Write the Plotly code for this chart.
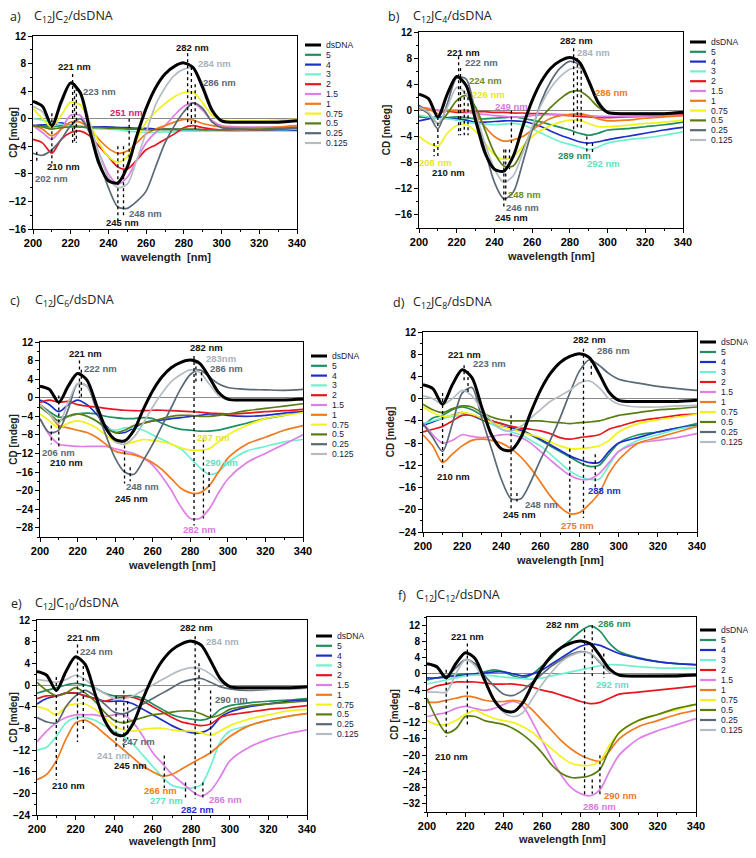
import plotly.graph_objects as go

# ---------------- data ----------------
WL = [200, 205, 210, 215, 220, 225, 230, 235, 240, 245, 250, 255, 260, 265, 270,
      275, 280, 285, 290, 295, 300, 310, 320, 330, 340]

SERIES = ["dsDNA", "5", "4", "3", "2", "1.5", "1", "0.75", "0.5", "0.25", "0.125"]
COLORS = ["#000000", "#1f8f5f", "#1c2fc8", "#6ff0d0", "#e8161e", "#e07ee8",
          "#f07a1c", "#f2f21a", "#5a7d12", "#5b6976", "#b4bcc4"]

DSDNA = [2.5, 1.8, -1.0, 2.5, 5.2, 3.8, -1.5, -6.5, -9.0, -9.3, -7.0, -2.5, 1.5, 4.5, 6.5,
         7.6, 8.1, 7.4, 4.5, 1.2, -0.3, -0.5, -0.5, -0.5, -0.3]

# panel a  C12JC2
a_5 = [-1.0, -1.1, -1.2, -1.0, -1.0, -1.1, -1.2, -1.2, -1.2, -1.3, -1.4, -1.4, -1.5, -1.5, -1.6, -1.6, -1.7, -1.7, -1.8, -1.8, -1.8, -1.7, -1.6, -1.5, -1.4]
a_4 = [-1.0, -0.9, -0.9, -0.6, -1.0, -1.2, -1.2, -1.2, -1.2, -1.3, -1.3, -1.4, -1.4, -1.5, -1.5, -1.5, -1.6, -1.6, -1.6, -1.7, -1.7, -1.7, -1.7, -1.7, -1.7]
a_3 = [0.0, -0.2, -0.5, -0.8, -1.0, -1.2, -1.3, -1.5, -1.5, -1.6, -1.8, -1.9, -2.0, -2.0, -1.9, -1.9, -1.8, -1.8, -1.8, -1.8, -1.8, -1.7, -1.6, -1.6, -1.5]
a_2 = [-3.0, -3.5, -5.0, -3.0, -2.0, -1.8, -2.5, -4.0, -5.5, -7.0, -7.3, -6.0, -4.5, -3.8, -3.0, -2.2, -1.3, -1.0, -1.3, -1.5, -1.6, -1.6, -1.6, -1.5, -1.3]
a_15 = [-1.0, -2.0, -3.0, -1.5, 0.5, 0.5, -2.0, -5.0, -8.0, -9.5, -8.5, -6.0, -3.5, -2.0, -1.0, 0.5, 1.8, 2.3, 1.2, -0.3, -1.0, -1.2, -1.2, -1.2, -1.0]
a_1 = [-1.0, -1.5, -2.5, -1.5, -0.5, -0.5, -1.5, -3.0, -4.3, -5.0, -4.7, -3.5, -2.2, -1.5, -1.0, -0.5, -0.1, -0.2, -0.7, -1.0, -1.2, -1.3, -1.3, -1.2, -1.0]
a_075 = [1.5, 0.0, -1.2, 0.5, 2.4, 2.0, -0.5, -3.5, -5.5, -6.3, -5.5, -3.0, -0.5, 1.0, 2.2, 3.2, 3.8, 3.8, 2.3, 0.5, -0.2, -0.3, -0.3, -0.2, -0.1]
a_05 = [-1.0, -1.2, -1.5, -1.3, -1.2, -1.2, -1.3, -1.3, -1.4, -1.4, -1.5, -1.5, -1.6, -1.6, -1.5, -1.5, -1.5, -1.5, -1.6, -1.6, -1.6, -1.5, -1.5, -1.4, -1.3]
a_025 = [-5.0, -5.3, -4.5, -3.0, -1.0, 0.0, -2.0, -6.0, -10.0, -12.8, -13.0, -12.0, -10.5, -7.0, -3.5, -1.0, 1.0, 2.3, 1.5, -0.5, -1.3, -1.5, -1.6, -1.5, -1.4]
a_0125 = [1.8, 1.0, -1.0, 2.0, 5.0, 4.0, -0.5, -5.0, -8.5, -10.0, -9.5, -6.0, -2.0, 2.0, 4.5, 6.3, 7.2, 7.3, 5.0, 1.5, -0.3, -0.5, -0.5, -0.4, -0.3]

# panel b  C12JC4
b_5 = [-1.0, -1.1, -1.2, -1.1, -1.0, -1.1, -1.3, -1.3, -1.2, -1.1, -1.0, -1.2, -1.5, -1.8, -2.2, -2.6, -3.0, -3.5, -3.8, -3.5, -3.0, -2.8, -2.5, -2.2, -1.8]
b_4 = [-1.6, -1.3, -1.0, -1.2, -1.3, -1.5, -1.8, -1.8, -1.7, -1.6, -1.6, -1.7, -2.0, -2.5, -3.2, -3.8, -4.3, -4.8, -5.0, -4.8, -4.5, -4.0, -3.5, -3.0, -2.6]
b_3 = [-0.7, -1.0, -1.2, -1.3, -1.5, -1.8, -2.0, -2.1, -2.2, -2.1, -2.0, -2.2, -2.8, -3.5, -4.2, -4.8, -5.2, -5.6, -6.0, -5.6, -5.0, -4.5, -4.2, -3.8, -3.3]
b_2 = [0.3, 0.2, 0.0, -0.1, -0.3, -0.3, -0.2, -0.2, -0.3, -0.3, -0.4, -0.4, -0.5, -0.5, -0.6, -0.7, -0.8, -0.9, -1.0, -1.1, -1.1, -1.0, -0.9, -0.8, -0.7]
b_15 = [0.5, 0.3, 0.0, 0.0, 0.0, -0.2, -0.5, -0.6, -0.8, -0.9, -1.0, -1.0, -0.8, -0.7, -0.6, -0.6, -0.7, -0.7, -0.8, -0.9, -0.9, -0.9, -0.9, -0.8, -0.8]
b_1 = [0.5, 0.2, -0.5, 0.0, 0.0, 0.0, -0.5, -2.5, -4.0, -4.7, -4.5, -4.0, -3.0, -2.0, -1.2, -0.8, -0.6, -0.5, -0.8, -1.3, -1.6, -1.5, -1.2, -1.0, -0.8]
b_075 = [-4.0, -5.0, -5.5, -3.5, -2.3, -2.2, -3.2, -5.0, -6.8, -7.5, -7.0, -5.5, -4.0, -3.0, -2.3, -1.8, -1.5, -1.5, -2.0, -2.5, -2.5, -2.3, -2.0, -1.8, -1.5]
b_05 = [0.5, -0.5, -2.0, -0.5, 1.5, 2.3, 0.5, -3.0, -6.5, -8.5, -8.5, -6.0, -3.0, -1.0, 0.5, 1.8, 2.8, 3.0, 2.0, 0.5, -0.3, -0.5, -0.4, -0.4, -0.3]
b_025 = [0.8, -0.5, -2.8, 1.0, 5.0, 4.8, -0.5, -6.0, -11.0, -13.5, -12.5, -8.0, -3.0, 1.5, 4.5, 6.5, 7.5, 7.0, 4.5, 1.5, -0.3, -0.5, -0.5, -0.5, -0.4]
b_0125 = [0.5, -0.3, -2.0, 0.5, 3.5, 2.5, -0.5, -5.0, -9.0, -11.0, -10.0, -6.5, -2.5, 1.0, 3.5, 5.2, 6.3, 6.5, 4.5, 1.5, -0.2, -0.4, -0.4, -0.4, -0.3]

# panel c  C12JC6
c_5 = [-1.5, -3.0, -4.2, -4.0, -3.5, -3.3, -3.5, -4.0, -4.3, -4.5, -4.5, -4.3, -4.5, -5.5, -6.3, -6.8, -7.0, -7.2, -7.2, -7.0, -6.5, -5.5, -4.5, -3.8, -3.0]
c_4 = [-0.5, -1.5, -3.0, -1.5, -0.5, -1.5, -3.5, -6.0, -7.5, -7.5, -6.5, -5.5, -5.0, -4.8, -4.5, -4.3, -4.0, -3.8, -3.5, -3.5, -3.8, -4.0, -3.8, -3.3, -3.0]
c_3 = [-2.0, -3.5, -5.0, -4.0, -3.5, -4.0, -5.0, -6.5, -7.0, -6.5, -6.5, -7.0, -8.0, -9.0, -10.0, -11.0, -13.0, -15.0, -16.5, -16.0, -14.0, -11.5, -10.5, -9.5, -9.0]
c_2 = [-1.0, -0.5, -1.0, -0.8, -1.5, -1.8, -2.0, -2.3, -2.5, -2.7, -2.8, -2.8, -2.7, -2.7, -2.8, -2.9, -3.0, -3.1, -3.3, -3.4, -3.5, -3.3, -3.0, -2.8, -2.5]
c_15 = [-4.5, -8.0, -10.0, -10.3, -10.5, -10.5, -10.5, -10.5, -11.0, -11.5, -12.0, -13.0, -14.5, -17.0, -20.0, -23.5, -26.0, -26.0, -24.0, -20.5, -17.5, -14.0, -12.0, -10.0, -8.0]
c_1 = [-1.5, -3.5, -6.0, -6.5, -7.0, -7.5, -8.5, -10.0, -11.5, -12.0, -12.3, -13.0, -14.0, -15.5, -17.5, -19.5, -20.5, -20.5, -19.0, -16.0, -13.0, -10.0, -8.5, -7.0, -6.0]
c_075 = [-3.5, -5.0, -6.5, -5.5, -5.0, -5.5, -6.5, -8.0, -9.5, -10.0, -9.5, -9.0, -9.2, -9.5, -10.0, -10.8, -11.3, -11.3, -11.0, -9.5, -8.0, -6.0, -4.5, -3.8, -3.2]
c_05 = [-2.0, -3.5, -5.0, -4.0, -3.5, -4.0, -5.0, -6.5, -7.5, -7.0, -6.0, -5.5, -5.0, -4.5, -4.0, -3.8, -3.8, -4.0, -4.0, -3.8, -3.5, -2.8, -2.3, -1.8, -1.3]
c_025 = [-4.5, -7.5, -7.0, -2.5, 3.0, 2.5, -2.5, -8.0, -13.0, -16.0, -16.5, -13.5, -10.0, -6.0, -2.0, 2.0, 5.0, 6.0, 4.5, 3.0, 2.2, 1.8, 1.7, 1.6, 1.8]
c_0125 = [-1.5, -3.5, -5.5, -1.0, 3.0, 2.5, -1.5, -6.5, -9.5, -10.0, -8.5, -5.5, -2.0, 1.0, 3.5, 5.0, 6.0, 5.5, 3.0, 0.5, -0.5, -0.5, -0.5, -0.5, -0.5]

# panel d  C12JC8
d_5 = [-5.0, -3.5, -3.0, -2.0, -1.5, -2.0, -3.0, -4.0, -4.5, -5.0, -5.5, -6.5, -7.5, -8.5, -9.5, -10.5, -11.5, -12.2, -12.0, -10.0, -8.0, -6.5, -6.0, -5.3, -4.5]
d_4 = [-4.8, -4.2, -3.5, -3.0, -2.5, -3.0, -3.8, -4.5, -5.0, -5.3, -5.8, -6.5, -7.3, -8.3, -9.3, -10.3, -11.0, -11.5, -11.5, -9.5, -8.0, -7.0, -6.0, -5.3, -4.8]
d_3 = [-4.5, -4.0, -3.5, -3.2, -3.0, -3.0, -3.5, -4.5, -5.5, -6.0, -6.5, -7.5, -8.5, -10.0, -11.5, -13.0, -14.0, -14.5, -14.5, -12.0, -9.5, -7.5, -6.5, -5.5, -5.0]
d_2 = [-6.0, -5.5, -5.0, -4.0, -3.0, -3.0, -3.5, -4.0, -4.5, -5.0, -5.3, -5.5, -5.8, -6.3, -7.0, -7.3, -7.0, -6.8, -6.5, -5.5, -5.0, -4.0, -3.5, -3.0, -2.8]
d_15 = [-4.3, -6.5, -8.0, -7.5, -6.5, -6.8, -7.0, -6.8, -6.5, -6.5, -7.0, -8.0, -9.5, -11.0, -12.5, -13.8, -14.5, -14.5, -13.5, -11.5, -9.5, -8.0, -7.5, -7.0, -6.3]
d_1 = [-6.5, -8.5, -11.5, -10.0, -8.5, -7.5, -7.3, -7.5, -8.0, -9.0, -10.5, -12.5, -15.0, -17.5, -19.5, -20.7, -20.5, -19.0, -17.0, -13.5, -11.0, -8.0, -7.0, -6.0, -5.0]
d_075 = [-1.5, -2.5, -3.2, -3.0, -2.5, -2.8, -3.5, -4.3, -5.0, -5.5, -6.0, -6.5, -7.0, -7.8, -8.5, -9.0, -9.0, -8.8, -8.5, -7.5, -6.0, -4.5, -3.8, -3.3, -2.8]
d_05 = [-1.0, -2.0, -2.5, -1.8, -1.3, -1.5, -2.5, -3.3, -3.8, -4.0, -4.0, -4.0, -4.0, -4.2, -4.3, -4.5, -4.3, -4.2, -4.0, -3.5, -3.0, -2.5, -2.0, -1.8, -1.5]
d_025 = [-4.5, -7.0, -9.5, -4.5, 1.0, 2.0, -3.5, -9.0, -14.5, -18.0, -18.0, -15.0, -11.0, -7.5, -3.5, 1.0, 5.0, 7.0, 6.0, 4.5, 3.5, 2.8, 2.2, 1.8, 1.5]
d_0125 = [0.5, 0.0, -1.0, 0.0, 1.5, 0.5, -2.0, -4.0, -5.5, -5.8, -5.0, -3.5, -2.0, -0.5, 0.5, 1.5, 2.8, 3.2, 2.0, 0.0, -1.0, -1.5, -1.5, -1.3, -1.2]

# panel e  C12JC10
e_5 = [-1.5, -1.0, -0.5, 0.0, 0.3, 0.0, -0.5, -1.5, -2.0, -2.0, -2.0, -2.5, -3.5, -4.5, -5.5, -6.0, -6.3, -6.5, -6.0, -4.5, -3.8, -3.3, -3.0, -2.8, -2.5]
e_4 = [-3.5, -2.5, -2.0, -1.5, -1.5, -2.0, -2.5, -3.0, -3.0, -3.0, -3.5, -4.5, -5.5, -6.5, -7.5, -8.3, -8.8, -8.8, -8.0, -6.0, -5.0, -4.0, -3.5, -3.0, -2.8]
e_3 = [-12.0, -11.5, -9.5, -7.0, -6.0, -6.0, -6.5, -7.5, -8.5, -9.5, -11.0, -13.0, -15.0, -17.0, -18.5, -19.0, -19.0, -18.5, -15.0, -10.5, -8.5, -7.5, -6.5, -5.8, -5.3]
e_2 = [-2.5, -2.0, -2.0, -1.5, -1.5, -2.0, -2.5, -3.0, -2.5, -2.3, -2.3, -3.0, -4.0, -5.0, -6.0, -6.8, -7.2, -7.5, -7.2, -6.0, -5.5, -5.0, -4.5, -4.2, -3.8]
e_15 = [-10.5, -8.5, -7.0, -6.0, -5.5, -5.5, -5.5, -5.8, -5.5, -5.5, -7.0, -9.5, -12.5, -14.5, -16.5, -18.0, -19.5, -20.5, -19.5, -17.0, -14.0, -11.5, -10.0, -9.0, -8.3]
e_1 = [-17.5, -16.5, -14.0, -10.0, -7.0, -6.5, -7.5, -9.0, -10.5, -12.0, -13.5, -15.0, -16.0, -16.8, -16.5, -15.5, -14.5, -13.5, -12.5, -11.0, -9.5, -7.5, -6.5, -5.8, -5.3]
e_075 = [-4.0, -4.5, -5.5, -4.0, -3.5, -3.5, -4.5, -6.0, -7.5, -8.3, -8.5, -8.2, -8.0, -8.0, -8.3, -8.5, -8.5, -8.8, -9.3, -8.5, -7.5, -6.3, -5.5, -4.8, -4.5]
e_05 = [0.5, -1.0, -2.0, -1.5, -0.5, -1.5, -3.0, -5.0, -6.5, -7.0, -6.5, -6.0, -5.5, -5.3, -5.0, -4.8, -4.8, -5.3, -6.0, -5.5, -4.5, -3.8, -3.5, -3.2, -3.0]
e_025 = [-6.0, -6.8, -7.0, -4.0, -2.0, -1.0, -2.0, -3.5, -5.0, -5.3, -4.5, -3.5, -2.5, -1.5, -0.5, 0.5, 1.0, 1.2, 0.5, -0.3, -0.7, -1.0, -0.8, -0.7, -0.6]
e_0125 = [1.0, 0.8, 0.5, 1.0, 1.8, 1.0, -0.5, -1.5, -2.5, -2.5, -2.0, -1.0, 0.0, 1.0, 2.0, 2.8, 3.2, 3.0, 2.0, 0.5, -0.3, -0.8, -0.8, -0.7, -0.6]

# panel f  C12JC12
f_5 = [-1.5, -1.0, -0.5, -0.3, 0.0, 0.0, 0.5, 1.0, 0.5, -0.5, -1.0, 0.0, 2.0, 4.0, 6.5, 8.5, 10.5, 11.8, 10.5, 7.5, 5.5, 4.0, 3.0, 2.5, 2.2]
f_4 = [-1.0, -1.0, -0.8, -0.5, -0.3, 0.0, 0.2, 0.5, 0.5, 0.0, -0.5, 0.0, 1.0, 2.5, 4.0, 5.5, 6.8, 7.3, 7.0, 6.0, 5.0, 3.8, 3.0, 2.5, 2.3]
f_3 = [-2.5, -2.0, -1.5, -1.0, -0.5, -0.3, -0.3, -0.5, -0.8, -1.0, -1.2, -1.3, -1.0, -0.5, 0.0, 0.5, 1.0, 1.5, 2.0, 2.3, 2.2, 1.8, 1.5, 1.4, 1.4]
f_2 = [-4.0, -3.0, -2.5, -2.0, -2.0, -2.0, -2.3, -2.5, -2.5, -2.5, -2.8, -3.3, -4.0, -4.5, -5.3, -6.0, -6.8, -7.3, -7.0, -6.0, -5.0, -4.5, -4.0, -3.5, -3.0]
f_15 = [-10.5, -10.0, -9.5, -8.5, -8.0, -8.5, -9.0, -8.5, -7.5, -6.8, -8.0, -12.0, -16.5, -21.0, -25.0, -28.0, -29.5, -30.0, -28.5, -24.0, -20.0, -16.0, -14.0, -12.5, -11.0]
f_1 = [-7.0, -7.0, -6.5, -6.0, -5.5, -5.8, -6.5, -6.8, -6.8, -6.5, -7.0, -9.0, -11.5, -14.0, -16.5, -18.5, -20.0, -21.0, -21.5, -19.0, -16.0, -13.0, -11.5, -10.0, -9.0]
f_075 = [-11.5, -12.5, -12.5, -11.5, -10.0, -9.0, -10.0, -11.0, -11.5, -12.0, -13.0, -14.5, -16.5, -18.5, -20.5, -22.0, -22.5, -22.5, -21.5, -17.5, -14.5, -11.5, -10.0, -8.8, -7.5]
f_05 = [-6.0, -11.0, -14.5, -13.5, -10.5, -10.5, -11.5, -12.0, -12.5, -13.5, -15.0, -17.0, -19.5, -22.5, -24.5, -25.5, -25.5, -25.0, -23.5, -18.5, -14.5, -11.5, -10.0, -8.5, -7.5]
f_025 = [2.5, 1.5, -0.5, 1.5, 3.5, 2.5, -0.5, -3.0, -5.0, -5.3, -4.0, -2.0, 0.0, 2.0, 3.5, 4.8, 5.5, 5.0, 2.8, 0.5, -0.3, -0.5, -0.4, -0.3, -0.2]
f_0125 = [-4.5, -4.5, -4.5, 0.0, 3.5, 2.0, -2.0, -6.5, -9.5, -10.5, -9.5, -6.0, -2.5, 0.5, 3.0, 4.5, 5.3, 5.0, 3.0, 0.5, -0.5, -0.8, -0.8, -0.7, -0.5]

PANEL_DATA = {
    "a": [DSDNA, a_5, a_4, a_3, a_2, a_15, a_1, a_075, a_05, a_025, a_0125],
    "b": [DSDNA, b_5, b_4, b_3, b_2, b_15, b_1, b_075, b_05, b_025, b_0125],
    "c": [DSDNA, c_5, c_4, c_3, c_2, c_15, c_1, c_075, c_05, c_025, c_0125],
    "d": [DSDNA, d_5, d_4, d_3, d_2, d_15, d_1, d_075, d_05, d_025, d_0125],
    "e": [DSDNA, e_5, e_4, e_3, e_2, e_15, e_1, e_075, e_05, e_025, e_0125],
    "f": [DSDNA, f_5, f_4, f_3, f_2, f_15, f_1, f_075, f_05, f_025, f_0125],
}

PANEL_TITLES = {
    "a": "C<sub>12</sub>JC<sub>2</sub>/dsDNA",
    "b": "C<sub>12</sub>JC<sub>4</sub>/dsDNA",
    "c": "C<sub>12</sub>JC<sub>6</sub>/dsDNA",
    "d": "C<sub>12</sub>JC<sub>8</sub>/dsDNA",
    "e": "C<sub>12</sub>JC<sub>10</sub>/dsDNA",
    "f": "C<sub>12</sub>JC<sub>12</sub>/dsDNA",
}
X_TITLES = {"a": "wavelength  [nm]", "b": "wavelength [nm]", "c": "wavelength [nm]",
            "d": "wavelength [nm]", "e": "wavelength [nm]", "f": "wavelength [nm]"}

K, SL, LG = "#111111", "#5b6976", "#a9b1b9"
PEAK_LABELS = {
    "a": [("221 nm", 222, 7.6, K), ("223 nm", 235.5, 4.0, SL), ("282 nm", 284.8, 10.3, K),
          ("284 nm", 296.3, 8.0, LG), ("286 nm", 298.8, 5.3, SL), ("251 nm", 249.6, 0.9, "#e0206a"),
          ("210 nm", 216, -6.9, K), ("202 nm", 209.8, -8.7, SL), ("248 nm", 259.4, -13.7, SL),
          ("245 nm", 247.5, -15.0, K)],
    "b": [("221 nm", 223.5, 8.9, K), ("222 nm", 233.2, 7.3, SL), ("224 nm", 235.3, 4.5, "#6b8e1a"),
          ("226 nm", 236.7, 2.5, "#e6e62a"), ("249 nm", 249.1, 0.6, "#d77ae0"), ("282 nm", 283.6, 10.7, K),
          ("284 nm", 292.4, 8.9, LG), ("286 nm", 302.1, 2.7, "#f07a1c"), ("289 nm", 282.7, -6.9, "#1f8f5f"),
          ("292 nm", 297.7, -8.2, "#5fe0c0"), ("208 nm", 208.5, -7.9, "#e6e62a"), ("210 nm", 215.9, -9.5, K),
          ("248 nm", 256.2, -12.9, "#6b8e1a"), ("246 nm", 255.0, -14.9, SL), ("245 nm", 248.8, -16.4, K)],
    "c": [("221 nm", 224, 9.6, K), ("222 nm", 232, 6.3, SL), ("282 nm", 288.8, 10.8, K),
          ("283nm", 296.5, 8.5, LG), ("286 nm", 299.5, 6.2, SL), ("287 nm", 292.4, -8.6, "#e6e62a"),
          ("290 nm", 296.8, -14.0, "#5fe0c0"), ("282 nm", 284.9, -28.4, "#d77ae0"), ("206 nm", 209.8, -11.7, SL),
          ("210 nm", 214.2, -13.9, K), ("248 nm", 254.3, -19.2, SL), ("245 nm", 248.8, -21.8, K)],
    "d": [("221 nm", 221.3, 7.9, K), ("223 nm", 234.1, 6.3, SL), ("282 nm", 285.2, 10.6, K),
          ("286 nm", 297.1, 8.7, SL), ("210 nm", 215.8, -14.1, K), ("288 nm", 292.8, -16.5, "#1c2fc8"),
          ("248 nm", 260.5, -19.1, SL), ("245 nm", 249.4, -20.9, K), ("275 nm", 278.9, -22.8, "#f07a1c")],
    "e": [("221 nm", 224.2, 8.8, K), ("224 nm", 231.1, 6.2, SL), ("282 nm", 282.9, 10.6, K),
          ("284 nm", 296.4, 8.0, LG), ("290 nm", 301, -2.6, SL), ("247 nm", 252.7, -10.5, SL),
          ("241 nm", 239.7, -13.1, LG), ("245 nm", 248.4, -14.9, K), ("210 nm", 216.4, -18.5, K),
          ("266 nm", 263.9, -19.5, "#f07a1c"), ("277 nm", 267.4, -21.4, "#5fe0c0"), ("286 nm", 297.6, -21.2, "#d77ae0"),
          ("282 nm", 283.2, -23.0, "#1c2fc8")],
    "f": [("221 nm", 221.3, 9.2, K), ("282 nm", 270.7, 12.2, K), ("286 nm", 297.6, 12.5, "#1f8f5f"),
          ("292 nm", 296.7, -2.7, "#5fe0c0"), ("210 nm", 213, -20.3, K), ("290 nm", 300.7, -30.0, "#f07a1c"),
          ("286 nm", 289.8, -32.6, "#d77ae0")],
}

MARKER_LINES = {
    "a": [(210, 0.8, -6.5), (202, -4.8, -6.5), (221, 6.5, -3.5), (222, 5.0, -3.5), (223, 4.5, -3.5),
          (245, -4.0, -15.5), (248, -4.0, -14.0), (251, 0.0, -6.0), (282, 9.5, -1.0), (284, 7.5, -1.0), (286, 5.0, -1.5)],
    "b": [(210, -1.0, -7.0), (208, -5.0, -7.0), (221, 8.3, -3.8), (222, 6.5, -3.8), (224, 3.0, -3.8), (226, 2.0, -3.8),
          (245, -6.0, -15.0), (246, -6.0, -14.0), (248, -6.0, -9.0), (249, 0.0, -5.0), (282, 9.5, -4.0),
          (284, 8.0, -3.0), (286, 7.0, -3.0), (289, -4.0, -6.5), (292, -5.0, -6.5)],
    "c": [(206, -6.0, -10.0), (210, 0.5, -10.5), (221, 8.0, 0.0), (222, 6.0, 0.0), (245, -9.0, -18.5),
          (248, -15.0, -18.0), (282, 9.0, -27.5), (283, 8.0, 3.0), (286, 5.5, 3.0), (287, -8.8, -26.0), (290, -16.0, -21.0)],
    "d": [(210, 1.0, -12.5), (221, 6.0, 3.0), (223, 5.0, 1.0), (245, -3.0, -20.0), (248, -17.0, -18.5),
          (275, -9.0, -22.0), (282, 9.0, -21.5), (286, 7.0, 4.0), (288, -10.0, -16.0)],
    "e": [(210, 1.5, -17.5), (221, 7.5, -10.5), (224, 3.5, -8.5), (241, -2.0, -12.0), (245, -1.0, -12.0),
          (247, -3.0, -10.0), (266, -13.0, -19.0), (277, -18.0, -21.0), (282, 9.0, -21.0), (284, 4.0, -1.0),
          (286, -18.0, -21.0), (290, -1.0, -13.0)],
    "f": [(210, 1.0, -15.5), (221, 7.5, -13.0), (282, 11.0, -30.0), (286, 12.0, -0.5), (292, 5.0, -1.0),
          (286, -26.0, -29.5), (290, -20.0, -30.0)],
}

# ---------------- layout geometry (window pixels of the reference) ----------------
WIN_W, WIN_H = 756, 858
OFF = 8                     # the page body margin shifts the figure by 8 px
W, H = WIN_W - 2 * OFF, WIN_H - 2 * OFF
GEOM = {
    # plot box x0,x1,y0,y1 ; y range ; title label pos ; title text x ; legend x, first y, step ; x-title y
    "a": dict(box=(33, 297, 36, 229), yr=(-16, 12), lab=(8, 16), tx=32, leg=(305, 45, 9.8), xt=257),
    "b": dict(box=(419, 683, 32, 228), yr=(-18, 12), lab=(386, 16), tx=411, leg=(690, 42, 9.8), xt=256),
    "c": dict(box=(40, 303, 342, 537), yr=(-30, 12), lab=(8, 301), tx=33, leg=(311, 356, 9.8), xt=565),
    "d": dict(box=(423, 697, 332, 532), yr=(-24, 12), lab=(391, 303), tx=411, leg=(700, 342, 10.0), xt=560),
    "e": dict(box=(37, 307, 620, 815), yr=(-24, 12), lab=(9, 603), tx=33, leg=(316, 636, 9.8), xt=841),
    "f": dict(box=(427, 696, 617, 812), yr=(-34, 14), lab=(396, 595), tx=414, leg=(700, 630, 10.0), xt=839),
}


def px(x):
    return (x - OFF) / W


def py(y):
    return 1 - (y - OFF) / H


fig = go.Figure()
layout = {}
shapes = []
annotations = []
FONT = "Arial, Liberation Sans, sans-serif"

for i, key in enumerate(["a", "b", "c", "d", "e", "f"]):
    n = "" if i == 0 else str(i + 1)
    xa, ya = "x" + n, "y" + n
    g = GEOM[key]
    x0, x1, y0, y1 = g["box"]
    series = list(zip(SERIES, COLORS, PANEL_DATA[key]))
    # draw dsDNA last so it sits on top
    for j, (name, col, vals) in list(enumerate(series))[1:] + [(0, series[0])]:
        fig.add_trace(go.Scatter(
            x=WL, y=vals, mode="lines", name=name, showlegend=False,
            line=dict(color=col, width=3 if j == 0 else 1.7, shape="spline", smoothing=0.8),
            xaxis=xa, yaxis=ya))

    layout["xaxis" + n] = dict(
        domain=[px(x0), px(x1)], anchor=ya, range=[200, 340], dtick=20, automargin=False,
        showline=True, mirror=True, linecolor="black", linewidth=1,
        ticks="outside", ticklen=4, tickcolor="black", showgrid=False, zeroline=False,
        minor=dict(dtick=10, ticks="outside", ticklen=2, tickcolor="black"),
        tickfont=dict(family=FONT, size=11, color="black", weight="bold"))
    layout["yaxis" + n] = dict(
        domain=[py(y1), py(y0)], anchor=xa, range=list(g["yr"]), dtick=4, tick0=0, automargin=False,
        showline=True, mirror=True, linecolor="black", linewidth=1,
        ticks="outside", ticklen=4, tickcolor="black", showgrid=False,
        zeroline=True, zerolinecolor="#8a8a8a", zerolinewidth=1,
        minor=dict(dtick=2, ticks="outside", ticklen=2, tickcolor="black"),
        tickfont=dict(family=FONT, size=10, color="black", weight="bold"),
        title=dict(text="CD [mdeg]", standoff=2,
                   font=dict(family=FONT, size=10, color="#222", weight="bold")))

    # x-axis title (as an annotation so it is not squeezed into the margins)
    annotations.append(dict(text=X_TITLES[key], x=px((x0 + x1) / 2), y=py(g["xt"]),
                            xref="paper", yref="paper", xanchor="center", yanchor="middle",
                            showarrow=False, font=dict(family=FONT, size=11, color="#222", weight="bold")))

    # dotted peak markers
    for (wx, ya0, ya1) in MARKER_LINES[key]:
        shapes.append(dict(type="line", xref=xa, yref=ya, x0=wx, x1=wx, y0=ya0, y1=ya1,
                           line=dict(color="black", width=1.3, dash="dot")))
    # peak labels
    for (txt, wx, wy, col) in PEAK_LABELS[key]:
        annotations.append(dict(text=txt, x=wx, y=wy, xref=xa, yref=ya, showarrow=False,
                                font=dict(family=FONT, size=9.5, color=col, weight="bold")))

    # panel title
    lx, ly = g["lab"]
    annotations.append(dict(text=key + ")", x=px(lx), y=py(ly), xref="paper", yref="paper",
                            xanchor="left", yanchor="middle", showarrow=False,
                            font=dict(family="Open Sans, sans-serif", size=12.5, color="#222")))
    annotations.append(dict(text=PANEL_TITLES[key], x=px(g["tx"]), y=py(ly), xref="paper", yref="paper",
                            xanchor="left", yanchor="middle", showarrow=False,
                            font=dict(family="Open Sans, sans-serif", size=12.5, color="#222")))

    # legend (drawn manually so it stays compact)
    gx, gy, step = g["leg"]
    for j, (name, col) in enumerate(zip(SERIES, COLORS)):
        yy = gy + j * step
        shapes.append(dict(type="line", xref="paper", yref="paper",
                           x0=px(gx), x1=px(gx + 16), y0=py(yy), y1=py(yy),
                           line=dict(color=col, width=3 if j == 0 else 2.2)))
        annotations.append(dict(text=name, x=px(gx + 19), y=py(yy), xref="paper", yref="paper",
                                xanchor="left", yanchor="middle", showarrow=False,
                                font=dict(family=FONT, size=8.6, color="#1a1a40")))

fig.update_layout(
    width=W, height=H, margin=dict(l=0, r=0, t=0, b=0),
    paper_bgcolor="white", plot_bgcolor="white", showlegend=False,
    shapes=shapes, annotations=annotations, **layout)

fig.write_html("out.html")
